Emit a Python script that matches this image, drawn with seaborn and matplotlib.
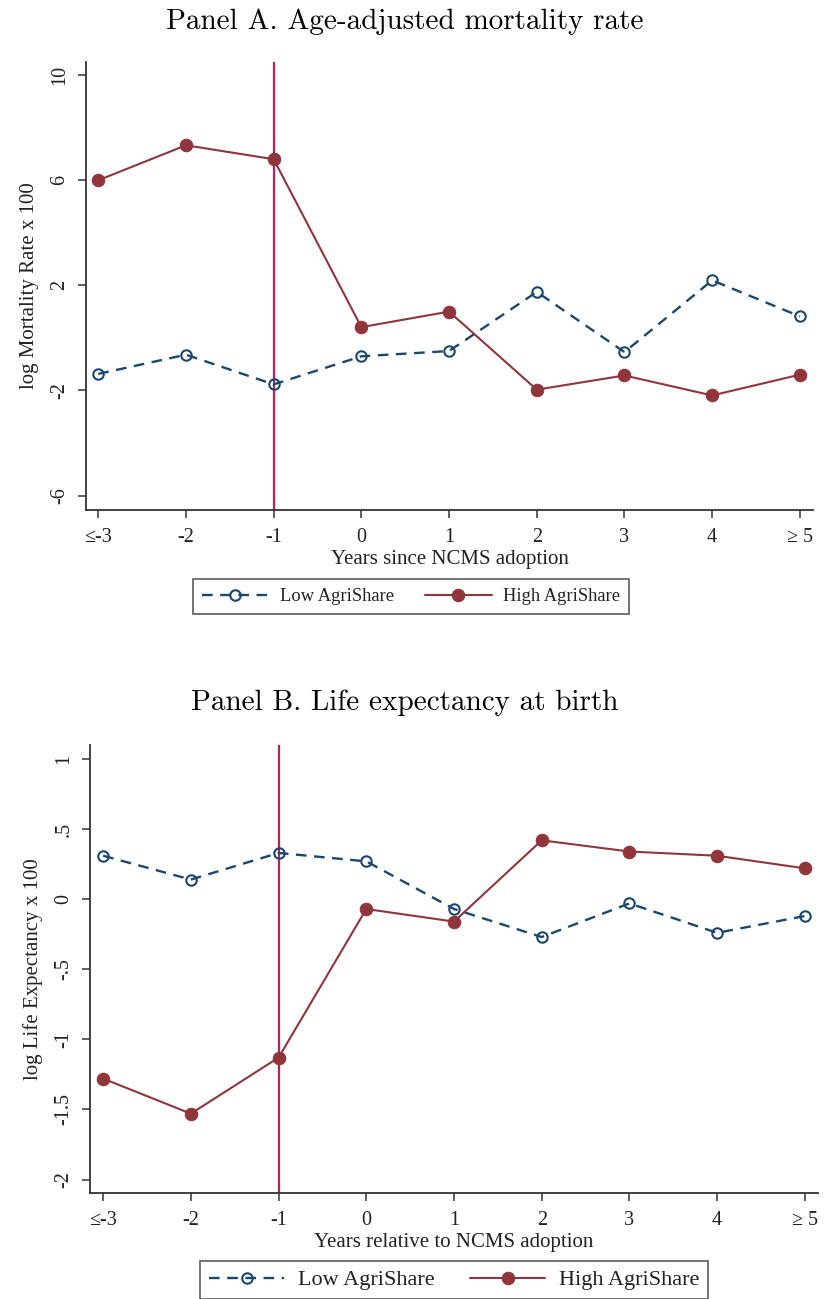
import matplotlib
matplotlib.use("Agg")
import matplotlib.pyplot as plt
import seaborn as sns
import pandas as pd

# Event-time categories (years relative to NCMS adoption)
event_labels = ["≤-3", "-2", "-1", "0", "1", "2", "3", "4", "≥ 5"]
event_pos = list(range(len(event_labels)))

# Panel A: log age-adjusted mortality rate x 100
mort_low = [-1.37, -0.64, -1.77, -0.70, -0.50, 1.75, -0.54, 2.19, 0.82]
mort_high = [6.0, 7.33, 6.8, 0.41, 1.0, -1.97, -1.43, -2.19, -1.40]
mort_yticks = [10, 6, 2, -2, -6]
mort_yticklabels = ["10", "6", "2", "-2", "-6"]

# Panel B: log life expectancy at birth x 100
life_low = [0.31, 0.14, 0.33, 0.27, -0.07, -0.27, -0.03, -0.24, -0.12]
life_high = [-1.28, -1.53, -1.13, -0.07, -0.16, 0.42, 0.34, 0.31, 0.22]
life_yticks = [1, 0.5, 0, -0.5, -1, -1.5, -2]
life_yticklabels = ["1", ".5", "0", "-.5", "-1", "-1.5", "-2"]

series_names = ["Low AgriShare", "High AgriShare"]

NAVY = "#1a476f"
MAROON = "#90353b"
VLINE = "#c01f55"
INK = "#222222"

sns.set_style("ticks")
plt.rcParams["font.family"] = ["Liberation Serif", "DejaVu Serif"]
plt.rcParams["axes.unicode_minus"] = False

W, H = 837, 1299
fig = plt.figure(figsize=(W / 100, H / 100), dpi=100)


def px_axes(left, top, right, bottom):
    return fig.add_axes([left / W, 1 - bottom / H, (right - left) / W, (bottom - top) / H])


def draw_panel(ax, low, high, yticks, yticklabels, ylim, ylabel, xlabel, xlim):
    df = pd.DataFrame({"pos": event_pos, "low": low, "high": high})
    ax.axvline(2, color=VLINE, lw=1.6, zorder=1)
    sns.lineplot(data=df, x="pos", y="low", ax=ax, color=NAVY, lw=1.7,
                 linestyle=(0, (4.5, 3.2)), marker="o", markersize=7.5,
                 markerfacecolor="none", markeredgecolor=NAVY,
                 markeredgewidth=1.5, label=series_names[0], zorder=3)
    sns.lineplot(data=df, x="pos", y="high", ax=ax, color=MAROON, lw=1.5,
                 marker="o", markersize=9, markerfacecolor=MAROON,
                 markeredgecolor=MAROON, label=series_names[1], zorder=4)
    if ax.get_legend() is not None:
        ax.get_legend().remove()

    ax.set_xlim(*xlim)
    ax.set_ylim(*ylim)
    ax.set_xticks(event_pos)
    ax.set_xticklabels(event_labels)
    ax.set_yticks(yticks)
    ax.set_yticklabels(yticklabels)
    for lab in ax.get_yticklabels():
        lab.set_rotation(90)
        lab.set_va("center")
    ax.tick_params(direction="out", length=6, width=1.2, color="#444444",
                   labelsize=14.5, labelcolor=INK, pad=6)
    ax.tick_params(axis="x", pad=7)
    for side in ("top", "right"):
        ax.spines[side].set_visible(False)
    for side in ("left", "bottom"):
        ax.spines[side].set_linewidth(1.3)
        ax.spines[side].set_color("#333333")
    ax.set_xlabel(xlabel, fontsize=15, color=INK, labelpad=2)
    ax.set_ylabel(ylabel, fontsize=15, color=INK, labelpad=8)
    ax.grid(False)


# Panel A
axA = px_axes(86, 62, 813, 510)
draw_panel(axA, mort_low, mort_high, mort_yticks, mort_yticklabels,
           (-6.55, 10.5), "log Mortality Rate x 100",
           "Years since NCMS adoption", (-0.14, 8.15))
fig.text(405 / W, 1 - 22 / H, "Panel A. Age-adjusted mortality rate",
         fontfamily="cmr10", fontsize=21, ha="center", va="center", color="black")
hA, lA = axA.get_legend_handles_labels()
legA = fig.legend(hA, lA, loc="center", bbox_to_anchor=(411 / W, 1 - 596.5 / H),
                  ncol=2, fontsize=13.3, frameon=True, fancybox=False,
                  edgecolor="#333333", handlelength=3.6, handletextpad=0.6,
                  columnspacing=1.7, borderpad=0.5)
legA.get_frame().set_linewidth(1.2)
for t in legA.get_texts():
    t.set_color(INK)

# Panel B
axB = px_axes(90, 745, 818, 1193)
draw_panel(axB, life_low, life_high, life_yticks, life_yticklabels,
           (-2.096, 1.10), "log Life Expectancy x 100",
           "Years relative to NCMS adoption", (-0.15, 8.15))
fig.text(405 / W, 1 - 703 / H, "Panel B. Life expectancy at birth",
         fontfamily="cmr10", fontsize=21, ha="center", va="center", color="black")
hB, lB = axB.get_legend_handles_labels()
legB = fig.legend(hB, lB, loc="center", bbox_to_anchor=(454 / W, 1 - 1280 / H),
                  ncol=2, fontsize=16, frameon=True, fancybox=False,
                  edgecolor="#333333", handlelength=3.4, handletextpad=0.6,
                  columnspacing=1.6, borderpad=0.4)
legB.get_frame().set_linewidth(1.2)
for t in legB.get_texts():
    t.set_color(INK)

fig.savefig("out.png", dpi=100, facecolor="white")
